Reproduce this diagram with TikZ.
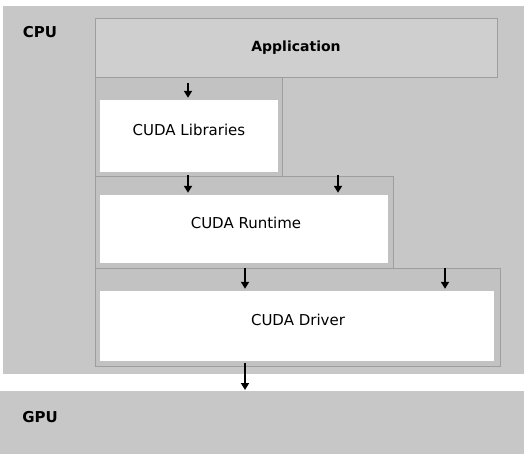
\documentclass[tikz,border=0pt]{standalone}
\usepackage{fontspec}
\setmainfont{DejaVu Sans}
\usetikzlibrary{arrows.meta}
\definecolor{bandgray}{gray}{0.78}
\definecolor{appgray}{gray}{0.81}
\definecolor{framegray}{gray}{0.76}
\definecolor{edgegray}{gray}{0.62}
\tikzset{
  band/.style={fill=bandgray, draw=none},
  bandlabel/.style={font=\fontsize{15}{18}\selectfont\bfseries, anchor=center},
  appbox/.style={fill=appgray, draw=edgegray, line width=0.8pt},
  frame/.style={fill=framegray, draw=edgegray, line width=0.8pt},
  layer/.style={fill=white, draw=none},
  layertext/.style={font=\fontsize{15}{18}\selectfont},
  arr/.style={line width=1.7pt, -{Triangle[length=7pt,width=8pt]}}
}
\begin{document}
\begin{tikzpicture}[x=1pt,y=-1pt]
\useasboundingbox (0,0) rectangle (524,454);
% bands
\fill[band] (3,6) rectangle (524,374);
\fill[band] (0,391) rectangle (524,454);
\node[bandlabel] (cpu) at (40,32) {CPU};
\node[bandlabel] (gpu) at (40,417) {GPU};
\coordinate (gputop) at (245,391);
% application
\draw[appbox] (95,18) rectangle (497,77);
\node[layertext, font=\fontsize{14}{17}\selectfont\bfseries] (app) at (296,47.5) {Application};
\coordinate (appbot) at (296,77);
% frames
\draw[frame] (95,268) rectangle (500,366);
\draw[frame] (95,176) rectangle (393,268);
\draw[frame] (95,77) rectangle (282,176);
% white layers
\node[layer, minimum width=178pt, minimum height=72pt, inner sep=0pt] (lib) at (189,136) {};
\node[layertext] at (189,130) {CUDA Libraries};
\node[layer, minimum width=288pt, minimum height=68pt, inner sep=0pt] (rt) at (244,229) {};
\node[layertext] at (246,223) {CUDA Runtime};
\node[layer, minimum width=394pt, minimum height=70pt, inner sep=0pt] (drv) at (297,326) {};
\node[layertext] at (298,320) {CUDA Driver};
% arrows
\draw[arr] (appbot -| 188,0) ++(0,6) -- ([yshift=2pt]lib.north -| 188,0);
\draw[arr] ([yshift=-3pt]lib.south -| 188,0) -- ([yshift=2pt]rt.north -| 188,0);
\draw[arr] ([yshift=20pt]rt.north -| 338,0) -- ([yshift=2pt]rt.north -| 338,0);
\draw[arr] ([yshift=-5pt]rt.south -| 245,0) -- ([yshift=2pt]drv.north -| 245,0);
\draw[arr] ([yshift=23pt]drv.north -| 445,0) -- ([yshift=2pt]drv.north -| 445,0);
\draw[arr] ([yshift=-2pt]drv.south -| 245,0) -- ([yshift=1pt]gputop);
\end{tikzpicture}
\end{document}
